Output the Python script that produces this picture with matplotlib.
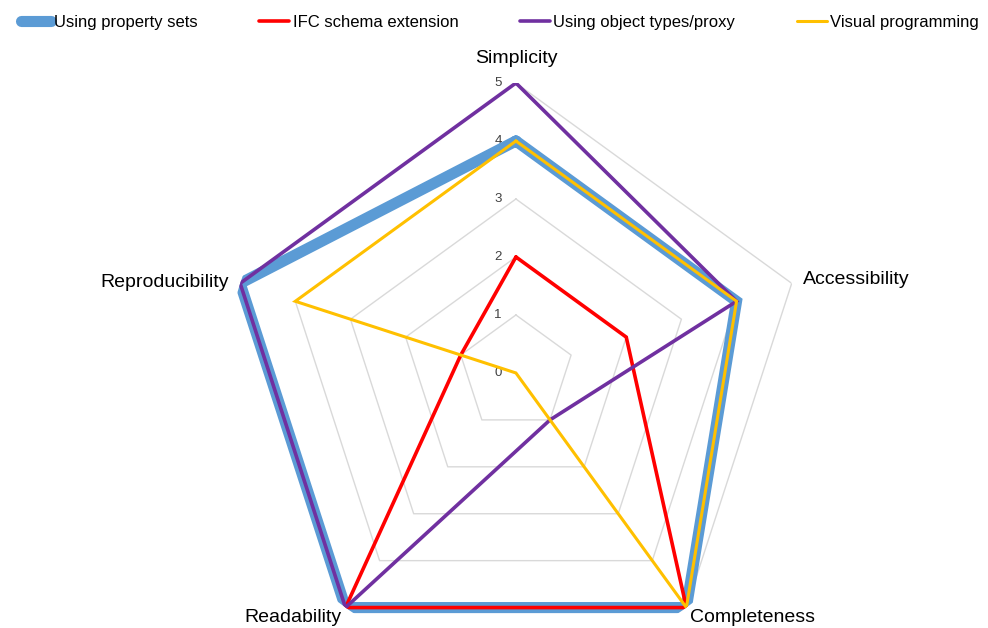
import numpy as np
import matplotlib
matplotlib.use("Agg")
import matplotlib.pyplot as plt
from matplotlib.transforms import offset_copy

plt.rcParams['font.family'] = ['Liberation Sans', 'DejaVu Sans']

categories = ["Simplicity", "Accessibility", "Completeness", "Readability", "Reproducibility"]
series_names = ["Using property sets", "IFC schema extension",
                "Using object types/proxy", "Visual programming"]
property_sets = [4, 4, 5, 5, 5]
ifc_extension = [2, 2, 5, 5, 1]
object_types = [5, 4, 1, 5, 5]
visual_prog = [4, 4, 5, 0, 4]
ticks = [0, 1, 2, 3, 4, 5]

colors = ["#5B9BD5", "#FF0000", "#7030A0", "#FFC000"]
widths = [8, 2.6, 2.6, 2.2]

n = len(categories)
theta = np.linspace(0, 2 * np.pi, n, endpoint=False)
theta_c = np.append(theta, theta[0])

fig = plt.figure(figsize=(9.88, 6.28), dpi=100)
ax = fig.add_axes([0.2287, -0.0557, 0.587, 0.9236], projection='polar')
ax.set_theta_offset(np.pi / 2)
ax.set_theta_direction(-1)
ax.set_ylim(0, 5)
ax.grid(False)
ax.spines['polar'].set_visible(False)
ax.set_xticks([])
ax.set_yticks([])
ax.patch.set_alpha(0)

# polygon gridlines
for t in ticks[1:]:
    ax.plot(theta_c, [t] * (n + 1), color="#D9D9D9", lw=1, zorder=1)

# value labels along the top axis
tr = offset_copy(ax.transData, fig=fig, x=-13, y=0, units='points')
for t in ticks:
    ax.text(0, t, str(t), transform=tr, ha='center', va='center',
            fontsize=9.5, color="#404040")

data = [property_sets, ifc_extension, object_types, visual_prog]
for vals, name, c, w in zip(data, series_names, colors, widths):
    ax.plot(theta_c, vals + vals[:1], color=c, lw=w, label=name,
            solid_joinstyle='miter', solid_capstyle='round', zorder=3)

# category labels
lab_fs = 14
down = offset_copy(ax.transData, fig=fig, x=0, y=-3, units='points')
ax.text(theta[0], 5.42, categories[0], ha='center', va='center', fontsize=lab_fs)
ax.text(theta[1], 5.2, categories[1], ha='left', va='center', fontsize=lab_fs)
ax.text(theta[2], 5.12, categories[2], ha='left', va='center', fontsize=lab_fs,
        transform=down)
ax.text(theta[3], 5.12, categories[3], ha='right', va='center', fontsize=lab_fs,
        transform=down)
ax.text(theta[4], 5.2, categories[4], ha='right', va='center', fontsize=lab_fs,
        transform=offset_copy(ax.transData, fig=fig, x=0, y=-2, units='points'))

fig.legend(loc='upper center', bbox_to_anchor=(0.506, 1.0), ncol=4,
           frameon=False, fontsize=12, handlelength=1.8, handletextpad=0.2,
           columnspacing=3.7)

fig.savefig("out.png", dpi=100)
